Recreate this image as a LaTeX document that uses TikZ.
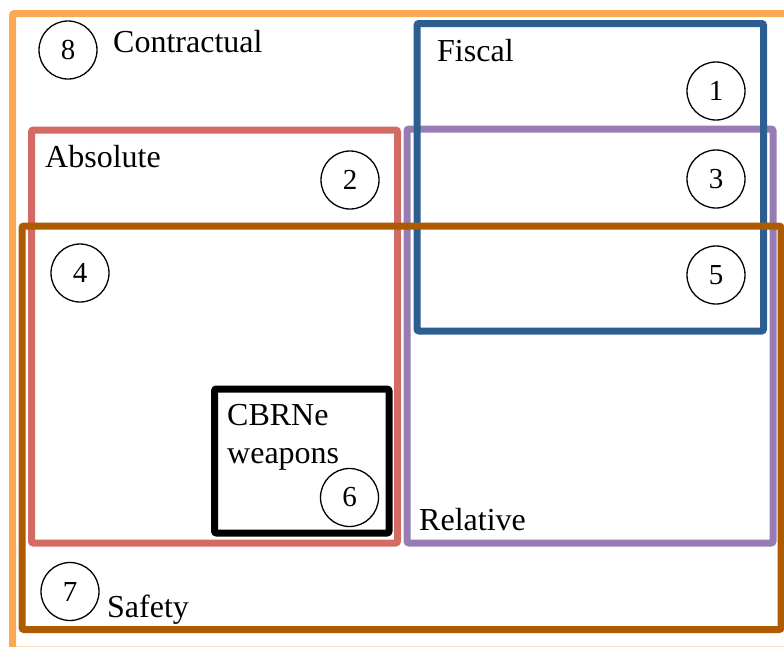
\documentclass[tikz,border=0pt]{standalone}
\usepackage{fontspec}
\setmainfont{Liberation Serif}
\definecolor{cOrange}{RGB}{250,168,84}
\definecolor{cBlue}{RGB}{44,94,145}
\definecolor{cPurple}{RGB}{150,124,178}
\definecolor{cRed}{RGB}{212,106,100}
\definecolor{cBrown}{RGB}{173,90,0}
\begin{document}
\begin{tikzpicture}[x=1pt,y=-1pt,
  setbox/.style={draw=#1,line width=7pt,rounded corners=2pt,rectangle,inner sep=0pt,outer sep=0pt},
  num/.style={draw,circle,line width=1.3pt,minimum size=58pt,inner sep=0pt,font=\fontsize{29}{31}\selectfont},
  lbl/.style={anchor=base west,inner sep=0pt,font=\fontsize{32}{38}\selectfont}]
\useasboundingbox (0,0) rectangle (784,646);
\clip (0,0) rectangle (784,646);
\node[setbox=cOrange,minimum width=777.5pt,minimum height=636.5pt] (contractual) at (401.25,331.75) {};
\node[setbox=cRed,minimum width=366pt,minimum height=413pt] (absolute) at (214.5,336.5) {};
\node[setbox=cPurple,minimum width=366pt,minimum height=414pt] (relative) at (590,336) {};
\node[setbox=cBlue,minimum width=346.5pt,minimum height=307.5pt] (fiscal) at (590.25,177.25) {};
\node[setbox=cBrown,minimum width=759pt,minimum height=403.5pt] (safety) at (401.5,427.75) {};
\node[setbox=black,minimum width=174.5pt,minimum height=144pt] (cbrne) at (301.75,461) {};
\node[lbl] (tContractual) at (113,52) {Contractual};
\node[lbl] (tFiscal) at (437,61) {Fiscal};
\node[lbl] (tAbsolute) at (45,167) {Absolute};
\node[lbl] (tCBRNe) at (227,425) {CBRNe};
\node[lbl] (tWeapons) at (227,463) {weapons};
\node[lbl] (tRelative) at (419,530) {Relative};
\node[lbl] (tSafety) at (107,617) {Safety};
\node[num] (n8) at (68,50) {8};
\node[num] (n1) at (716,91) {1};
\node[num] (n2) at (350,180) {2};
\node[num] (n3) at (716,179) {3};
\node[num] (n4) at (80,273) {4};
\node[num] (n5) at (716,275) {5};
\node[num] (n6) at (349.5,497.5) {6};
\node[num] (n7) at (70,591.5) {7};
\end{tikzpicture}
\end{document}
